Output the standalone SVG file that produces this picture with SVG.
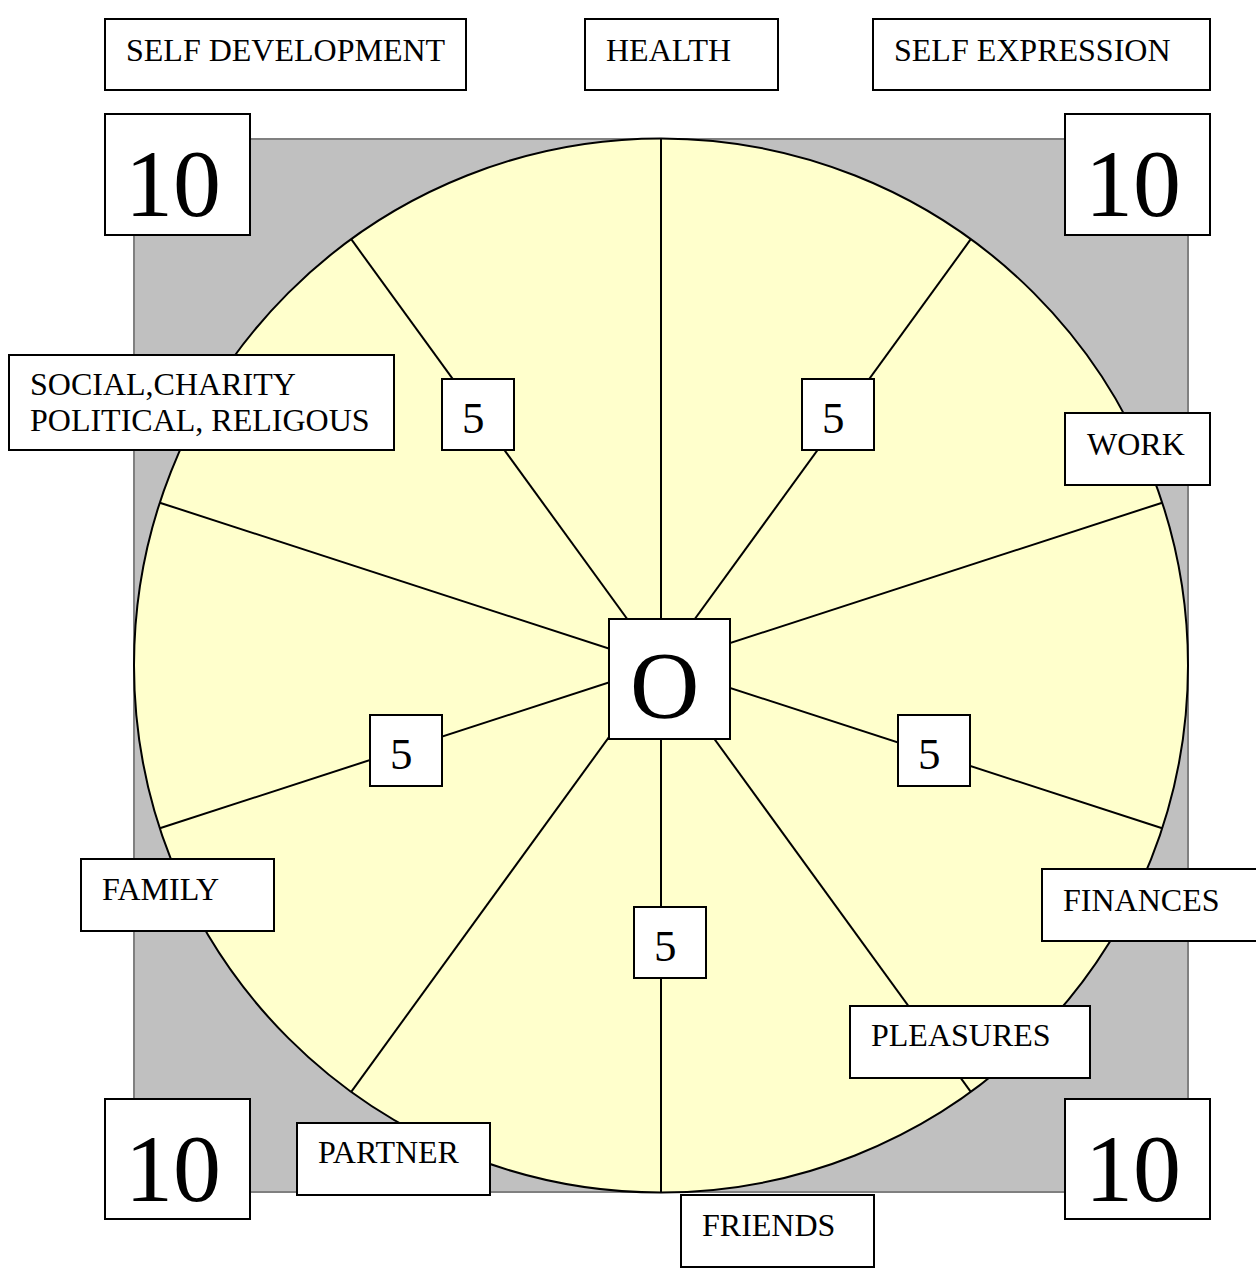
<svg xmlns="http://www.w3.org/2000/svg" width="1256" height="1270" viewBox="0 0 1256 1270">
<style>
.box{fill:#fff;stroke:#000;stroke-width:2}
.t{font-family:"Liberation Serif","Times New Roman",serif;font-size:32px;fill:#000}
.big{font-family:"Liberation Serif","Times New Roman",serif;font-size:96px;fill:#000}
.mid{font-family:"Liberation Serif","Times New Roman",serif;font-size:45px;fill:#000}
.spoke{stroke:#000;stroke-width:2}
</style>
<rect x="134" y="139" width="1054" height="1053" fill="#c0c0c0" stroke="#808080" stroke-width="2"/>
<circle cx="661" cy="665.5" r="527" fill="#ffffcc" stroke="#000" stroke-width="2"/>
<g id="connectors">
<line class="spoke" x1="661" y1="665.5" x2="661" y2="138.5"/>
<line class="spoke" x1="661" y1="665.5" x2="970.8" y2="239.2"/>
<line class="spoke" x1="661" y1="665.5" x2="1162.2" y2="502.7"/>
<line class="spoke" x1="661" y1="665.5" x2="1162.2" y2="828.3"/>
<line class="spoke" x1="661" y1="665.5" x2="970.8" y2="1091.8"/>
<line class="spoke" x1="661" y1="665.5" x2="661" y2="1192.5"/>
<line class="spoke" x1="661" y1="665.5" x2="351.2" y2="1091.8"/>
<line class="spoke" x1="661" y1="665.5" x2="159.8" y2="828.3"/>
<line class="spoke" x1="661" y1="665.5" x2="159.8" y2="502.7"/>
<line class="spoke" x1="661" y1="665.5" x2="351.2" y2="239.2"/>
</g>
<g id="self-development"><rect class="box" x="105" y="19" width="361" height="71"/><text class="t" x="126" y="61">SELF DEVELOPMENT</text></g>
<g id="health"><rect class="box" x="585" y="19" width="193" height="71"/><text class="t" x="606" y="61">HEALTH</text></g>
<g id="self-expression"><rect class="box" x="873" y="19" width="337" height="71"/><text class="t" x="894" y="61">SELF EXPRESSION</text></g>
<g id="ten-tl"><rect class="box" x="105" y="114" width="145" height="121"/><text class="big" x="125" y="216">10</text></g>
<g id="ten-tr"><rect class="box" x="1065" y="114" width="145" height="121"/><text class="big" x="1085" y="216">10</text></g>
<g id="ten-bl"><rect class="box" x="105" y="1099" width="145" height="120"/><text class="big" x="125" y="1201">10</text></g>
<g id="ten-br"><rect class="box" x="1065" y="1099" width="145" height="120"/><text class="big" x="1085" y="1201">10</text></g>
<g id="social"><rect class="box" x="9" y="355" width="385" height="95"/><text class="t" x="30" y="395">SOCIAL,CHARITY</text><text class="t" x="30" y="431">POLITICAL, RELIGOUS</text></g>
<g id="work"><rect class="box" x="1065" y="413" width="145" height="72"/><text class="t" x="1087" y="455">WORK</text></g>
<g id="five-tl"><rect class="box" x="442" y="379" width="72" height="71"/><text class="mid" x="462" y="433">5</text></g>
<g id="five-tr"><rect class="box" x="802" y="379" width="72" height="71"/><text class="mid" x="822" y="433">5</text></g>
<g id="five-l"><rect class="box" x="370" y="715" width="72" height="71"/><text class="mid" x="390" y="769">5</text></g>
<g id="five-r"><rect class="box" x="898" y="715" width="72" height="71"/><text class="mid" x="918" y="769">5</text></g>
<g id="five-b"><rect class="box" x="634" y="907" width="72" height="71"/><text class="mid" x="654" y="961">5</text></g>
<g id="center"><rect class="box" x="609" y="619" width="121" height="120"/><text class="big" x="630" y="718">O</text></g>
<g id="family"><rect class="box" x="81" y="859" width="193" height="72"/><text class="t" x="102" y="900">FAMILY</text></g>
<g id="finances"><rect class="box" x="1042" y="869" width="220" height="72"/><text class="t" x="1063" y="911">FINANCES</text></g>
<g id="pleasures"><rect class="box" x="850" y="1006" width="240" height="72"/><text class="t" x="871" y="1046">PLEASURES</text></g>
<g id="partner"><rect class="box" x="297" y="1123" width="193" height="72"/><text class="t" x="318" y="1163">PARTNER</text></g>
<g id="friends"><rect class="box" x="681" y="1195" width="193" height="72"/><text class="t" x="702" y="1236">FRIENDS</text></g>
</svg>
